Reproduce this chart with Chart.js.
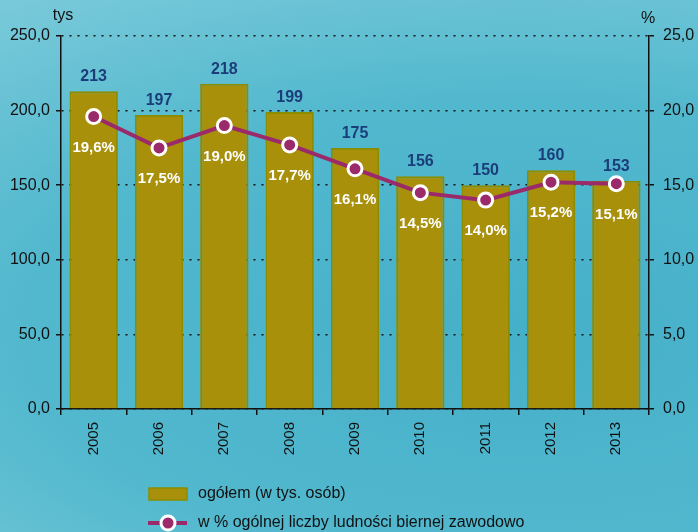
<!DOCTYPE html>
<html>
<head>
<meta charset="utf-8">
<script src="https://cdn.jsdelivr.net/npm/chart.js@4/dist/chart.umd.min.js"></script>
<style>
  html, body { margin: 0; padding: 0; }
  body {
    width: 698px; height: 532px; overflow: hidden;
    background: radial-gradient(ellipse 900px 420px at 520px 330px, #45b0c9 0%, #52b8ce 55%, #7ccbda 100%);
    font-family: "Liberation Sans", Arial, sans-serif;
  }
  #wrap { position: relative; width: 698px; height: 532px; }
</style>
</head>
<body>
<div id="wrap"><canvas id="wykres" width="698" height="532"></canvas></div>
<script>
const lata = ['2005', '2006', '2007', '2008', '2009', '2010', '2011', '2012', '2013'];
const ogolem = [213, 197, 218, 199, 175, 156, 150, 160, 153];
const procent = [19.6, 17.5, 19.0, 17.7, 16.1, 14.5, 14.0, 15.2, 15.1];
const etykietyLewe = [0, 50, 100, 150, 200, 250];
const etykietyPrawe = [0, 5, 10, 15, 20, 25];

const kolorSlupka = '#a8900a';
const kolorRamki = '#8c8c00';
const kolorLinii = '#9b2a6a';
const czcionka = '"Liberation Sans", Arial';
const fmt = v => v.toFixed(1).replace('.', ',');

// etykiety wartosci, tytuly osi i legenda
const dodatki = {
  id: 'dodatki',
  afterDatasetsDraw(chart) {
    const ctx = chart.ctx;
    ctx.save();
    ctx.textAlign = 'center';
    ctx.textBaseline = 'alphabetic';
    ctx.font = 'bold 16px ' + czcionka;
    ctx.fillStyle = '#1b3d7a';
    chart.getDatasetMeta(1).data.forEach((bar, i) => {
      ctx.fillText(ogolem[i], bar.x, bar.y - 10);
    });
    ctx.font = 'bold 15px ' + czcionka;
    ctx.fillStyle = '#ffffff';
    ctx.textBaseline = 'middle';
    chart.getDatasetMeta(0).data.forEach((pt, i) => {
      ctx.fillText(fmt(procent[i]) + '%', pt.x, pt.y + 31);
    });

    const a = chart.chartArea;
    ctx.font = '16px ' + czcionka;
    ctx.fillStyle = '#111';
    ctx.textBaseline = 'middle';
    ctx.fillText('tys', 63, 16);
    ctx.fillText('%', a.right - 1, 19);

    // legenda
    ctx.textAlign = 'left';
    ctx.fillStyle = kolorSlupka;
    ctx.fillRect(149, 488, 38, 12);
    ctx.strokeStyle = kolorRamki;
    ctx.lineWidth = 1.5;
    ctx.strokeRect(149, 488, 38, 12);
    ctx.fillStyle = '#111';
    ctx.fillText(chart.data.datasets[1].label, 198, 494);

    ctx.strokeStyle = kolorLinii;
    ctx.lineWidth = 4;
    ctx.beginPath();
    ctx.moveTo(148, 523); ctx.lineTo(187, 523);
    ctx.stroke();
    ctx.beginPath();
    ctx.arc(168, 523, 7, 0, Math.PI * 2);
    ctx.fillStyle = kolorLinii;
    ctx.fill();
    ctx.strokeStyle = '#fff';
    ctx.lineWidth = 3;
    ctx.stroke();
    ctx.fillStyle = '#111';
    ctx.fillText(chart.data.datasets[0].label, 198, 523);
    ctx.restore();
  }
};

const ctx = document.getElementById('wykres').getContext('2d');
new Chart(ctx, {
  data: {
    labels: lata,
    datasets: [
      {
        type: 'line',
        label: 'w % ogólnej liczby ludności biernej zawodowo',
        data: procent,
        yAxisID: 'y1',
        order: 0,
        borderColor: kolorLinii,
        borderWidth: 4,
        pointRadius: 7,
        pointBackgroundColor: kolorLinii,
        pointBorderColor: '#ffffff',
        pointBorderWidth: 3,
        tension: 0
      },
      {
        type: 'bar',
        label: 'ogółem (w tys. osób)',
        data: ogolem,
        yAxisID: 'y',
        order: 1,
        backgroundColor: kolorSlupka,
        borderColor: kolorRamki,
        borderWidth: 2,
        borderSkipped: 'bottom',
        barPercentage: 0.74,
        categoryPercentage: 1
      }
    ]
  },
  options: {
    responsive: false,
    animation: false,
    layout: { padding: { top: 36, left: 0, right: 0, bottom: 0 } },
    plugins: { legend: { display: false }, tooltip: { enabled: false } },
    scales: {
      x: {
        offset: true,
        grid: { offset: true, drawOnChartArea: false, color: '#111', tickLength: 6, lineWidth: 1.5 },
        border: { color: '#111', width: 1.5 },
        ticks: {
          color: '#111', font: { size: 15, family: czcionka },
          maxRotation: 90, minRotation: 90, padding: 7
        },
        afterFit(s) { s.height = 123; }
      },
      y: {
        position: 'left',
        min: 0, max: 250,
        afterBuildTicks(s) { s.ticks = etykietyLewe.map(v => ({ value: v })); },
        grid: { color: '#111', lineWidth: 1.5, tickLength: 5, tickColor: '#111' },
        border: { color: '#111', width: 1.5, dash: [2, 6] },
        ticks: {
          color: '#111', font: { size: 16, family: czcionka },
          padding: 6, callback: v => fmt(v)
        },
        afterFit(s) { s.width = 61; }
      },
      y1: {
        position: 'right',
        min: 0, max: 25,
        afterBuildTicks(s) { s.ticks = etykietyPrawe.map(v => ({ value: v })); },
        grid: { drawOnChartArea: false, color: '#111', lineWidth: 1.5, tickLength: 5 },
        border: { color: '#111', width: 1.5 },
        ticks: {
          color: '#111', font: { size: 16, family: czcionka },
          padding: 9, callback: v => fmt(v)
        },
        afterFit(s) { s.width = 49; }
      }
    }
  },
  plugins: [dodatki]
});
</script>
</body>
</html>
